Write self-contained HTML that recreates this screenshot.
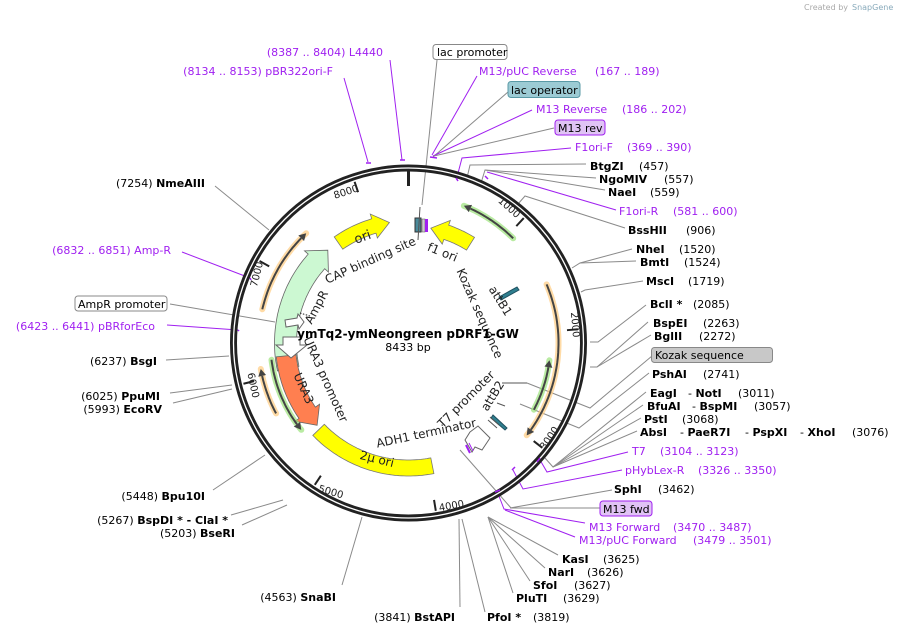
<!DOCTYPE html>
<html><head><meta charset="utf-8">
<style>
html,body{margin:0;padding:0;background:#fff;}
svg{display:block;font-family:"DejaVu Sans","Liberation Sans",sans-serif;}
.b{font-weight:bold;}
.t{font-size:11px;fill:#000;}
.p{font-size:11px;fill:#a020f0;}
.g{stroke:#8a8a8a;stroke-width:1;fill:none;}
.v{stroke:#a020f0;stroke-width:1;fill:none;}
</style></head>
<body>
<svg id="s" width="901" height="634" viewBox="0 0 901 634" xmlns="http://www.w3.org/2000/svg">
<text x="804" y="10" font-size="8" fill="#aaa">Created by</text><text x="852" y="10" font-size="8" fill="#8ab">SnapGene</text>
<g id="lines">
<polyline class="g" points="437,60 422,205"/>
<polyline class="v" points="477,76 432,155"/>
<polyline class="g" points="508,92 433,157"/>
<polyline class="v" points="532,110 433,156"/>
<polyline class="g" points="554,128 434,156"/>
<polyline class="v" points="571,148 462,158 457,177"/>
<polyline class="g" points="586,164 470,165 467,178"/>
<polyline class="g" points="596,178 485,170 481,183"/>
<polyline class="g" points="605,190 485,170"/>
<polyline class="v" points="616,210 487,172"/>
<polyline class="g" points="625,228 525,196 518,204"/>
<polyline class="g" points="632,249 580,263 572,268"/>
<polyline class="g" points="636,261 580,263"/>
<polyline class="g" points="643,281 585,290 581,292"/>
<polyline class="g" points="646,305 598,342 590,342"/>
<polyline class="g" points="648,322 597,367 590,367"/>
<polyline class="g" points="651,335 597,367"/>
<polyline class="g" points="652,356 590,408 527,383"/>
<polyline class="g" points="649,373 579,428 520,404"/>
<polyline class="g" points="646,392 553,467"/>
<polyline class="g" points="643,405 553,467"/>
<polyline class="g" points="641,418 553,467"/>
<polyline class="g" points="637,431 553,467 545,458"/>
<polyline class="v" points="628,452 547,472 540,460"/>
<polyline class="v" points="622,470 523,489 513,470"/>
<polyline class="g" points="612,490 510,508"/>
<polyline class="g" points="600,508 511,508 497,492"/>
<polyline class="v" points="585,523 504,509 497,491"/>
<polyline class="v" points="575,537 505,510"/>
<polyline class="g" points="558,555 488,517"/>
<polyline class="g" points="545,568 488,517"/>
<polyline class="g" points="530,581 488,517"/>
<polyline class="g" points="513,593 488,517"/>
<polyline class="g" points="485,612 462,519"/>
<polyline class="g" points="460,607 459,519"/>
<polyline class="g" points="342,585 362,517"/>
<polyline class="g" points="242,525 287,505"/>
<polyline class="g" points="231,515 283,500"/>
<polyline class="g" points="213,490 265,455"/>
<polyline class="g" points="173,403 232,389"/>
<polyline class="g" points="170,393 232,385"/>
<polyline class="g" points="166,360 229,356"/>
<polyline class="v" points="167,325 238,330"/>
<polyline class="g" points="170,304 275,322"/>
<polyline class="v" points="182,252 250,278"/>
<polyline class="g" points="215,186 269,230"/>
<polyline class="v" points="344,78 368,162"/>
<polyline class="v" points="390,60 402,160"/>
<polyline class="g" points="460,450 497,492"/>
</g>
<g id="ring">
<circle cx="408.5" cy="343" r="175" fill="none" stroke="#222" stroke-width="7"/>
<circle cx="408.5" cy="343" r="175" fill="none" stroke="#fff" stroke-width="1.3"/>
</g>
<g id="feat"></g>
<g stroke="#a020f0" stroke-width="1.5">
<line x1="366" y1="163" x2="371" y2="163"/><line x1="400" y1="160" x2="405" y2="160"/>
<line x1="430" y1="157" x2="437" y2="158"/><line x1="456" y1="178" x2="458" y2="181"/>
<line x1="485" y1="176" x2="488" y2="179"/><line x1="238" y1="330" x2="239" y2="331"/>
<line x1="250" y1="278" x2="251" y2="280"/><line x1="537" y1="462" x2="540" y2="458"/>
<line x1="512" y1="470" x2="515" y2="467"/><line x1="495" y1="492" x2="500" y2="490"/>
</g>
<g font-size="12" fill="#222">
<text transform="translate(372,264) rotate(-24)" text-anchor="middle">CAP binding site</text>
<text transform="translate(441,256) rotate(22)" text-anchor="middle">f1 ori</text>
<text transform="translate(476,315) rotate(66)" text-anchor="middle">Kozak sequence</text>
<text transform="translate(497,303) rotate(58)" text-anchor="middle">attB1</text>
<text transform="translate(320,309) rotate(-62)" text-anchor="middle">AmpR</text>
<text transform="translate(322,381) rotate(66)" text-anchor="middle">URA3 promoter</text>
<text transform="translate(300,390) rotate(66)" text-anchor="middle">URA3</text>
<text transform="translate(469,402) rotate(-45)" text-anchor="middle">T7 promoter</text>
<text transform="translate(496,398) rotate(-58)" text-anchor="middle">attB2</text>
<text transform="translate(427,437) rotate(-12)" text-anchor="middle">ADH1 terminator</text>
<text transform="translate(376,463) rotate(14)" text-anchor="middle">2μ ori</text>
<text transform="translate(364,241) rotate(-20)" text-anchor="middle" font-size="13">ori</text>
</g>
<g font-size="10" fill="#222">
<text transform="translate(347,195) rotate(-18)" text-anchor="middle">8000</text>
<text transform="translate(507,210) rotate(42)" text-anchor="middle">1000</text>
<text transform="translate(572,325) rotate(85)" text-anchor="middle">2000</text>
<text transform="translate(552,440) rotate(-55)" text-anchor="middle">3000</text>
<text transform="translate(452,509) rotate(-10)" text-anchor="middle">4000</text>
<text transform="translate(330,495) rotate(16)" text-anchor="middle">5000</text>
<text transform="translate(250,386) rotate(78)" text-anchor="middle">6000</text>
<text transform="translate(260,275) rotate(-76)" text-anchor="middle">7000</text>
</g>
<text x="408" y="338" text-anchor="middle" font-size="12" class="b">ymTq2-ymNeongreen pDRF1-GW</text>
<text x="408" y="351" text-anchor="middle" font-size="11">8433 bp</text>
<rect x="433" y="44.5" width="74" height="15" rx="3" fill="#fff" stroke="#888"/>
<text x="437" y="56" class="t">lac promoter</text>
<rect x="508" y="81.5" width="72" height="16" rx="3" fill="#9ccbd4" stroke="#5a9aa6"/>
<text x="511" y="94" class="t">lac operator</text>
<rect x="555" y="120" width="50" height="15" rx="3" fill="#e0c3f5" stroke="#a020f0"/>
<text x="558" y="132" class="t">M13 rev</text>
<rect x="651.5" y="347.5" width="121" height="15" rx="3" fill="#c8c8c8" stroke="#888"/>
<text x="655" y="359" class="t">Kozak sequence</text>
<rect x="600" y="501" width="52" height="15" rx="3" fill="#e0c3f5" stroke="#a020f0"/>
<text x="603" y="513" class="t">M13 fwd</text>
<rect x="75" y="296" width="92" height="15" rx="3" fill="#fff" stroke="#888"/>
<text x="78" y="308" class="t">AmpR promoter</text>
<g class="t">
<text x="479" y="75" class="p">M13/pUC Reverse<tspan x="595">(167 .. 189)</tspan></text>
<text x="536" y="113" class="p">M13 Reverse<tspan x="622">(186 .. 202)</tspan></text>
<text x="575" y="151" class="p">F1ori-F<tspan x="627">(369 .. 390)</tspan></text>
<text x="590" y="170"><tspan class="b">BtgZI</tspan><tspan x="639">(457)</tspan></text>
<text x="599" y="183"><tspan class="b">NgoMIV</tspan><tspan x="664">(557)</tspan></text>
<text x="608" y="196"><tspan class="b">NaeI</tspan><tspan x="650">(559)</tspan></text>
<text x="619" y="215" class="p">F1ori-R<tspan x="673">(581 .. 600)</tspan></text>
<text x="628" y="234"><tspan class="b">BssHII</tspan><tspan x="686">(906)</tspan></text>
<text x="636" y="253"><tspan class="b">NheI</tspan><tspan x="679">(1520)</tspan></text>
<text x="640" y="266"><tspan class="b">BmtI</tspan><tspan x="684">(1524)</tspan></text>
<text x="646" y="285"><tspan class="b">MscI</tspan><tspan x="688">(1719)</tspan></text>
<text x="650" y="308"><tspan class="b">BclI *</tspan><tspan x="693">(2085)</tspan></text>
<text x="653" y="327"><tspan class="b">BspEI</tspan><tspan x="703">(2263)</tspan></text>
<text x="654" y="340"><tspan class="b">BglII</tspan><tspan x="699">(2272)</tspan></text>
<text x="652" y="378"><tspan class="b">PshAI</tspan><tspan x="703">(2741)</tspan></text>
<text x="650" y="397"><tspan class="b">EagI</tspan><tspan x="688">- </tspan><tspan class="b">NotI</tspan><tspan x="738">(3011)</tspan></text>
<text x="647" y="410"><tspan class="b">BfuAI</tspan><tspan x="692">- </tspan><tspan class="b">BspMI</tspan><tspan x="754">(3057)</tspan></text>
<text x="644" y="423"><tspan class="b">PstI</tspan><tspan x="682">(3068)</tspan></text>
<text x="640" y="436"><tspan class="b">AbsI</tspan><tspan x="680">- </tspan><tspan class="b">PaeR7I</tspan><tspan x="745">- </tspan><tspan class="b">PspXI</tspan><tspan x="800">- </tspan><tspan class="b">XhoI</tspan><tspan x="852">(3076)</tspan></text>
<text x="632" y="455" class="p">T7<tspan x="660">(3104 .. 3123)</tspan></text>
<text x="625" y="474" class="p">pHybLex-R<tspan x="698">(3326 .. 3350)</tspan></text>
<text x="614" y="493"><tspan class="b">SphI</tspan><tspan x="658">(3462)</tspan></text>
<text x="589" y="531" class="p">M13 Forward<tspan x="673">(3470 .. 3487)</tspan></text>
<text x="579" y="544" class="p">M13/pUC Forward<tspan x="693">(3479 .. 3501)</tspan></text>
<text x="562" y="563"><tspan class="b">KasI</tspan><tspan x="603">(3625)</tspan></text>
<text x="548" y="576"><tspan class="b">NarI</tspan><tspan x="587">(3626)</tspan></text>
<text x="533" y="589"><tspan class="b">SfoI</tspan><tspan x="574">(3627)</tspan></text>
<text x="516" y="602"><tspan class="b">PluTI</tspan><tspan x="563">(3629)</tspan></text>
<text x="487" y="621"><tspan class="b">PfoI *</tspan><tspan x="533">(3819)</tspan></text>
</g>
<g class="t" text-anchor="end">
<text x="455" y="621">(3841)  <tspan class="b">BstAPI</tspan></text>
<text x="336" y="601">(4563)  <tspan class="b">SnaBI</tspan></text>
<text x="235" y="537">(5203)  <tspan class="b">BseRI</tspan></text>
<text x="228" y="524">(5267)  <tspan class="b">BspDI *  - ClaI *</tspan></text>
<text x="205" y="500">(5448)  <tspan class="b">Bpu10I</tspan></text>
<text x="160" y="400">(6025)  <tspan class="b">PpuMI</tspan></text>
<text x="162" y="413">(5993)  <tspan class="b">EcoRV</tspan></text>
<text x="157" y="365">(6237)  <tspan class="b">BsgI</tspan></text>
<text x="155" y="330" class="p">(6423 .. 6441)  pBRforEco</text>
<text x="171" y="254" class="p">(6832 .. 6851)  Amp-R</text>
<text x="205" y="187">(7254)  <tspan class="b">NmeAIII</tspan></text>
<text x="333" y="75" class="p">(8134 .. 8153)  pBR322ori-F</text>
<text x="383" y="56" class="p">(8387 .. 8404)  L4440</text>
</g>
<script>
var cx=408.5,cy=343,NS="http://www.w3.org/2000/svg",F=document.getElementById('feat');
function P(r,a){a=a*Math.PI/180;return [cx+r*Math.sin(a),cy-r*Math.cos(a)];}
function el(t,at){var e=document.createElementNS(NS,t);for(var k in at)e.setAttribute(k,at[k]);F.appendChild(e);return e;}
function arcPts(r,a1,a2){var s='',n=Math.max(2,Math.ceil(Math.abs(a2-a1)));for(var i=0;i<=n;i++){var p=P(r,a1+(a2-a1)*i/n);s+=(i?' L':'M')+p[0].toFixed(1)+','+p[1].toFixed(1);}return s;}
function band(r,w,a1,a2,arrow,fill,stroke){
 var d=a2>a1?1:-1,hl=arrow?(16/r*180/Math.PI):0,ah=a2-d*hl;
 var ro=r+w/2,ri=r-w/2,s=arcPts(ro,a1,ah);
 if(arrow){var q=P(ro+5,ah),t=P(r,a2),u=P(ri-5,ah);s+=' L'+q+' L'+t+' L'+u;}
 var inner=arcPts(ri,ah,a1).replace('M','L');s+=inner+'Z';
 el('path',{d:s,fill:fill,stroke:stroke||'#555','stroke-width':0.8});
}
function thin(r,a1,a2,halo){
 el('path',{d:arcPts(r,a1,a2),fill:'none',stroke:halo,'stroke-width':6,opacity:0.7,'stroke-linecap':'round'});
 var d=a2>a1?1:-1,ah=a2-d*(7/r*180/Math.PI);
 el('path',{d:arcPts(r,a1,ah),fill:'none',stroke:'#444','stroke-width':2});
 var q=P(r+4,ah),t=P(r,a2),u=P(r-4,ah);
 el('path',{d:'M'+q+' L'+t+' L'+u+'Z',fill:'#444'});
}
for(var k=0;k<9;k++){var a=k*1000/8433*360;var p1=P(k?170:172,a),p2=P(k?159:157,a);
 el('line',{x1:p1[0],y1:p1[1],x2:p2[0],y2:p2[1],stroke:'#222','stroke-width':k?2:3});}
band(122,15,-35,-9,true,'#ffff00','#777');
band(117,15,32,11,true,'#ffff00','#777');
band(123,22,-102,-41,true,'#ccf8d2','#666');
band(123,20,264,228,true,'#ff7f50','#666');
band(125,16,169,226,false,'#ffff00','#777');
thin(148,45,22,'#9be37a');
thin(150,67,128,'#ffcc80');
thin(142,118,97,'#9be37a');
thin(150,-77,-43,'#ffcc80');
thin(150,242,260,'#ffcc80');
thin(138,263,231,'#9be37a');
el('path',{d:'M283,337 L300,337 L300,345 L307,345 L291,358 L276,345 L283,345Z',fill:'#fff',stroke:'#666'});
el('path',{d:'M285,320 L297,318 L298,314 L304,322 L299,329 L298,325 L286,327Z',fill:'#fff',stroke:'#666'});
el('path',{d:'M470,432 L478,426 L490,438 L482,450 L475,447 L472,452 L465,440Z',fill:'#fff',stroke:'#666'});
el('line',{x1:300,y1:313,x2:310,y2:316,stroke:'#222','stroke-dasharray':'1.5,1.5'});
el('path',{d:'M499,297 L517,287 L519,290 L501,300Z',fill:'#2f7f8f',stroke:'#1f4f5f'});
el('path',{d:'M493,415 L507,428 L505,430 L491,418Z',fill:'#2f7f8f',stroke:'#1f4f5f'});
el('rect',{x:415,y:218,width:6,height:14,fill:'#4a8a9a',stroke:'#333'});
el('rect',{x:422,y:219,width:3,height:13,fill:'#ccc',stroke:'#555','stroke-width':0.5});
el('rect',{x:425,y:219,width:3,height:13,fill:'#a020f0'});
el('line',{x1:420,y1:207,x2:418,y2:240,stroke:'#555'});
el('line',{x1:466,y1:445,x2:470,y2:453,stroke:'#a020f0','stroke-width':2});
el('line',{x1:469,y1:443,x2:473,y2:451,stroke:'#a020f0','stroke-width':1});
el('line',{x1:488,y1:420,x2:497,y2:428,stroke:'#555'});
el('line',{x1:490,y1:417,x2:499,y2:425,stroke:'#555'});
el('line',{x1:502,y1:383,x2:527,y2:383,stroke:'#555'});
el('line',{x1:497,y1:403,x2:505,y2:406,stroke:'#555'});
</script>
</svg>
</body></html>
